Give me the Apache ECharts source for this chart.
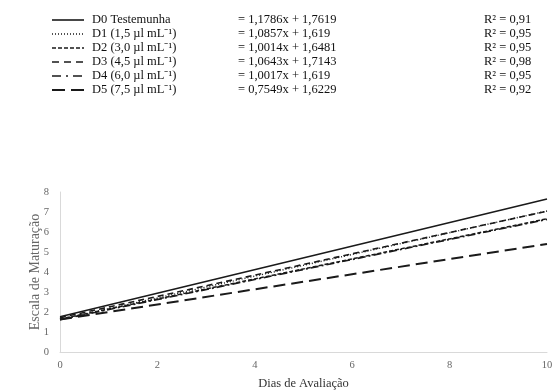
<!DOCTYPE html>
<html>
<head>
<meta charset="utf-8">
<script src="https://cdn.jsdelivr.net/npm/echarts@6/dist/echarts.min.js"></script>
<style>
  html, body { margin: 0; padding: 0; background: #fff; }
  #chart { width: 560px; height: 392px; }
</style>
</head>
<body>
<div id="chart"></div>
<script>
// Treatment names, fitted equations and R² shown in the key
const seriesNames = ['D0 Testemunha', 'D1 (1,5 µl mL⁻¹)', 'D2 (3,0 µl mL⁻¹)', 'D3 (4,5 µl mL⁻¹)', 'D4 (6,0 µl mL⁻¹)', 'D5 (7,5 µl mL⁻¹)'];
const equations = ['= 1,1786x + 1,7619', '= 1,0857x + 1,619', '= 1,0014x + 1,6481', '= 1,0643x + 1,7143', '= 1,0017x + 1,619', '= 0,7549x + 1,6229'];
const rSquared = ['R² = 0,91', 'R² = 0,95', 'R² = 0,95', 'R² = 0,98', 'R² = 0,95', 'R² = 0,92'];

// Trend line end points: day 0 and day 10
const days = [0, 10];
const startValues = [1.7619, 1.619, 1.6481, 1.7143, 1.619, 1.6229];
const endValues = [7.65, 7.05, 6.66, 7.04, 6.63, 5.40];

const xTicks = [0, 2, 4, 6, 8, 10];

// Line styles per treatment (plot and key)
const dashes = ['solid', [1, 2], [4, 2], [6, 4], [8, 3, 2, 3], [12, 6]];
const keyDashes = [null, [1, 2], [4, 2], [7, 5], [9, 5, 2, 5], [13, 6]];
const widths = [1.6, 1.4, 1.5, 1.6, 1.6, 2];
const ink = '#1a1a1a';
const font = '"Liberation Serif", "Times New Roman", serif';

const chart = echarts.init(document.getElementById('chart'), null, { renderer: 'canvas' });

const series = seriesNames.map((name, i) => ({
  name: name,
  type: 'line',
  symbol: 'none',
  data: [[days[0], startValues[i]], [days[1], endValues[i]]],
  lineStyle: { color: ink, width: widths[i], type: dashes[i] },
  z: 10 - i
}));

// Key drawn as rows: sample line, name, equation, R²
const rowY = [20, 34, 48, 62, 76, 90];
const graphic = [];
seriesNames.forEach((name, i) => {
  graphic.push({
    type: 'line',
    shape: { x1: 52, y1: rowY[i], x2: 84, y2: rowY[i] },
    style: { stroke: ink, lineWidth: widths[i], lineDash: keyDashes[i] }
  });
  graphic.push({
    type: 'text', x: 92, y: rowY[i],
    style: { text: name, font: '12.5px ' + font, fill: '#111', textVerticalAlign: 'middle' }
  });
  graphic.push({
    type: 'text', x: 238, y: rowY[i],
    style: { text: equations[i], font: '12.5px ' + font, fill: '#111', textVerticalAlign: 'middle' }
  });
  graphic.push({
    type: 'text', x: 484, y: rowY[i],
    style: { text: rSquared[i], font: '12.5px ' + font, fill: '#111', textVerticalAlign: 'middle' }
  });
});

chart.setOption({
  animation: false,
  backgroundColor: '#fff',
  grid: { left: 60, right: 13, top: 192, bottom: 40, containLabel: false },
  xAxis: {
    type: 'value', min: 0, max: 10, interval: 2,
    name: 'Dias de Avaliação', nameLocation: 'middle', nameGap: 25,
    nameMoveOverlap: false,
    nameTextStyle: { fontFamily: font, fontSize: 12.5, color: '#333' },
    axisLine: { show: true, lineStyle: { color: '#d9d9d9', width: 1 } },
    axisTick: { show: false },
    splitLine: { show: false },
    axisLabel: { fontFamily: font, fontSize: 10.5, color: '#666', margin: 8,
      formatter: v => xTicks.includes(v) ? String(v) : '' }
  },
  yAxis: {
    type: 'value', min: 0, max: 8, interval: 1,
    name: 'Escala de Maturação', nameLocation: 'middle', nameGap: 18, nameRotate: 90,
    nameMoveOverlap: false,
    nameTextStyle: { fontFamily: font, fontSize: 14, color: '#666' },
    axisLine: { show: true, lineStyle: { color: '#d9d9d9', width: 1 } },
    axisTick: { show: false },
    splitLine: { show: false },
    axisLabel: { fontFamily: font, fontSize: 10.5, color: '#666', margin: 11 }
  },
  series: series,
  graphic: graphic
});
</script>
</body>
</html>
